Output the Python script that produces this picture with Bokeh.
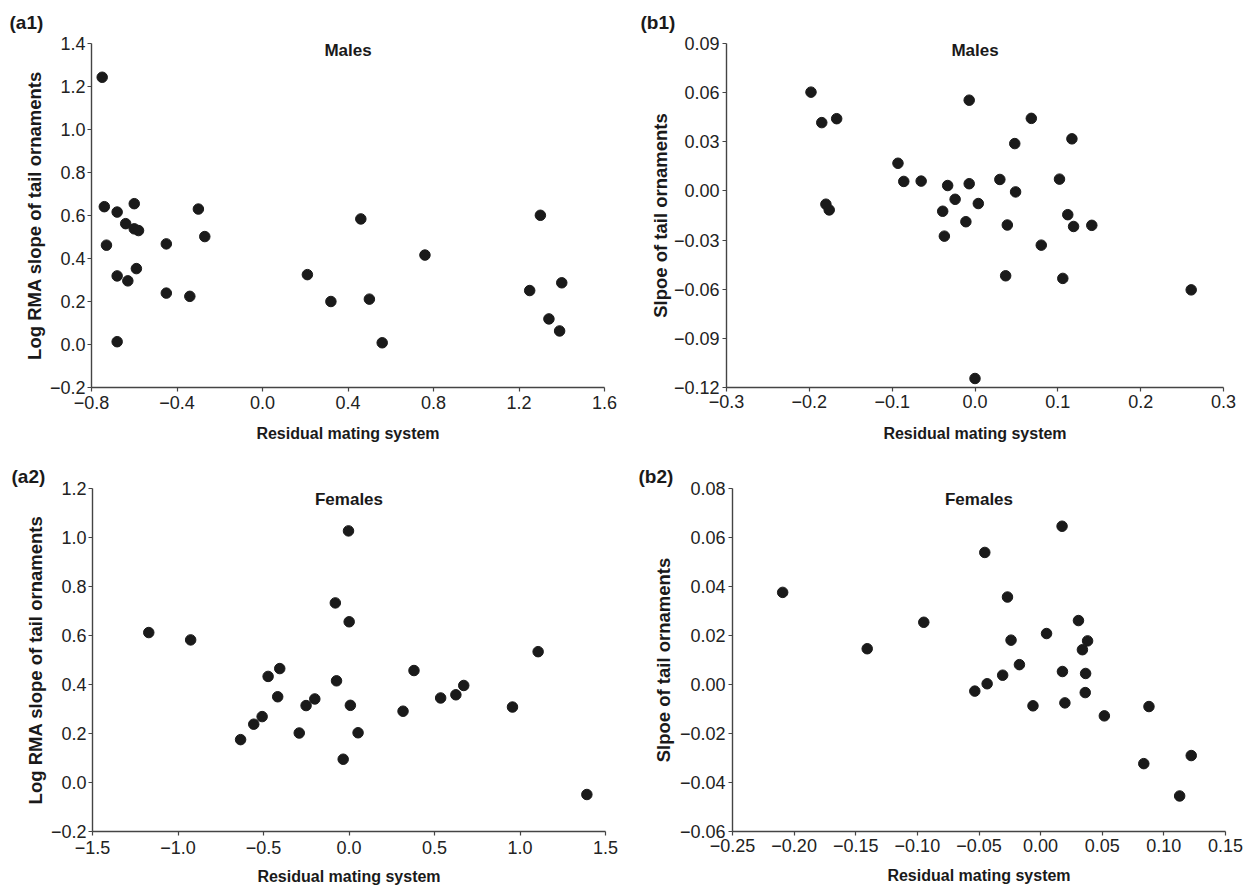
from bokeh.plotting import figure
from bokeh.layouts import column, row
from bokeh.models import Label, Title, FixedTicker, CustomJSTickFormatter, Range1d
from bokeh.embed import file_html
from bokeh.resources import INLINE

# ---------------- data ----------------
# (a1) Males: log RMA slope vs residual mating system
a1_x = [-0.75, -0.74, -0.68, -0.60, -0.64, -0.60, -0.58, -0.73, -0.45, -0.30,
        -0.27, -0.68, -0.63, -0.59, -0.45, -0.34, -0.68, 0.21, 0.32, 0.46,
        0.50, 0.56, 0.76, 1.30, 1.25, 1.40, 1.34, 1.39]
a1_y = [1.243, 0.641, 0.616, 0.655, 0.562, 0.538, 0.530, 0.462, 0.468, 0.630,
        0.502, 0.319, 0.296, 0.353, 0.239, 0.224, 0.013, 0.325, 0.200, 0.584,
        0.211, 0.008, 0.416, 0.601, 0.251, 0.287, 0.119, 0.063]

# (b1) Males: slope vs residual mating system
b1_x = [-0.198, -0.185, -0.167, -0.180, -0.176, -0.093, -0.086, -0.065, -0.033, -0.007,
        -0.007, -0.024, 0.004, -0.039, -0.011, -0.037, 0.000, 0.030, 0.049, 0.048,
        0.068, 0.039, 0.037, 0.080, 0.102, 0.117, 0.112, 0.119, 0.141, 0.106, 0.261]
b1_y = [0.0603, 0.0417, 0.0441, -0.0081, -0.0116, 0.0169, 0.0058, 0.0060, 0.0033, 0.0044,
        0.0554, -0.0051, -0.0077, -0.0124, -0.0188, -0.0276, -0.1145, 0.0070, -0.0006, 0.0289,
        0.0443, -0.0208, -0.0518, -0.0331, 0.0072, 0.0318, -0.0145, -0.0217, -0.0210, -0.0534,
        -0.0604]

# (a2) Females: log RMA slope vs residual mating system
a2_x = [-1.171, -0.926, -0.634, -0.557, -0.508, -0.473, -0.405, -0.417, -0.291, -0.251,
        -0.200, -0.080, -0.073, -0.003, 0.001, 0.008, -0.034, 0.053, 0.316, 0.380,
        0.536, 0.625, 0.671, 0.956, 1.106, 1.391]
a2_y = [0.612, 0.582, 0.175, 0.238, 0.269, 0.433, 0.465, 0.350, 0.202, 0.314,
        0.341, 0.733, 0.415, 1.027, 0.656, 0.315, 0.095, 0.203, 0.291, 0.457,
        0.345, 0.358, 0.396, 0.308, 0.534, -0.049]

# (b2) Females: slope vs residual mating system
b2_x = [-0.2093, -0.1407, -0.0948, -0.0453, -0.0269, -0.0240, -0.0172, -0.0308, -0.0434, -0.0534,
        -0.0062, 0.0048, 0.0174, 0.0177, 0.0197, 0.0307, 0.0381, 0.0339, 0.0365, 0.0362,
        0.0517, 0.0879, 0.0837, 0.1222, 0.1128]
b2_y = [0.0376, 0.0146, 0.0254, 0.0539, 0.0357, 0.0181, 0.0081, 0.0038, 0.0003, -0.0027,
        -0.0087, 0.0208, 0.0646, 0.0053, -0.0075, 0.0261, 0.0178, 0.0142, 0.0045, -0.0033,
        -0.0128, -0.0090, -0.0323, -0.0290, -0.0455]

# tick values
a1_xticks = [-0.8, -0.4, 0.0, 0.4, 0.8, 1.2, 1.6]
a1_yticks = [-0.2, 0.0, 0.2, 0.4, 0.6, 0.8, 1.0, 1.2, 1.4]
b1_xticks = [-0.3, -0.2, -0.1, 0.0, 0.1, 0.2, 0.3]
b1_yticks = [-0.12, -0.09, -0.06, -0.03, 0.0, 0.03, 0.06, 0.09]
a2_xticks = [-1.5, -1.0, -0.5, 0.0, 0.5, 1.0, 1.5]
a2_yticks = [-0.2, 0.0, 0.2, 0.4, 0.6, 0.8, 1.0, 1.2]
b2_xticks = [-0.25, -0.20, -0.15, -0.10, -0.05, 0.0, 0.05, 0.10, 0.15]
b2_yticks = [-0.06, -0.04, -0.02, 0.0, 0.02, 0.04, 0.06, 0.08]

x_label = "Residual mating system"
ylab_log = "Log RMA slope of tail ornaments"
ylab_slope = "Slpoe of tail ornaments"

FONT = "Liberation Sans"
INK = "#1a1a1a"
AXC = "#444444"

FMT_CODE = """
const s = Math.abs(tick).toFixed(d);
return (tick < -1e-12 ? "\\u2212" : "") + s;
"""


def panel(xs, ys, xticks, yticks, xdec, ydec, ylabel, title, tag, g):
    p = figure(width=g["w"], height=g["h"],
               x_range=Range1d(xticks[0], xticks[-1]),
               y_range=Range1d(yticks[0], yticks[-1]),
               min_border_left=g["l"], min_border_right=g["r"],
               min_border_top=g["t"], min_border_bottom=g["b"],
               output_backend="svg", toolbar_location=None, tools="")
    p.outline_line_color = None
    p.grid.visible = False
    p.background_fill_color = "white"
    p.border_fill_color = "white"
    p.scatter(xs, ys, size=10.5, fill_color=INK, line_color=INK)

    for ax, ticks, dec in ((p.xaxis[0], xticks, xdec), (p.yaxis[0], yticks, ydec)):
        ax.ticker = FixedTicker(ticks=ticks)
        ax.formatter = CustomJSTickFormatter(args=dict(d=dec), code=FMT_CODE)
        ax.major_tick_out = 4
        ax.major_tick_in = 0
        ax.minor_tick_out = 0
        ax.minor_tick_in = 0
        ax.axis_line_color = AXC
        ax.axis_line_width = 1.4
        ax.major_tick_line_color = AXC
        ax.major_tick_line_width = 1.2
        ax.major_label_text_font = FONT
        ax.major_label_text_font_size = "18px"
        ax.major_label_text_color = "#222222"
        ax.axis_label_text_font = FONT
        ax.axis_label_text_font_style = "bold"
        ax.axis_label_text_color = "#1a1a1a"

    p.xaxis[0].axis_label = x_label
    p.xaxis[0].axis_label_text_font_size = "16px"
    p.xaxis[0].major_label_standoff = g["xts"]
    p.xaxis[0].axis_label_standoff = g["xls"]
    p.yaxis[0].axis_label = ylabel
    p.yaxis[0].axis_label_text_font_size = "18.5px"
    p.yaxis[0].major_label_standoff = g["yts"]
    p.yaxis[0].axis_label_standoff = g["yls"]

    xmid = (xticks[0] + xticks[-1]) / 2
    p.add_layout(Label(x=xmid, y=yticks[-1], text=title, text_align="center",
                       text_baseline="top", y_offset=g["ty"], text_font=FONT,
                       text_font_style="bold", text_font_size="17px", text_color=INK))
    p.add_layout(Title(text=tag, align="left", vertical_align="top",
                       offset=g["tagx"], standoff=g["tags"],
                       text_font=FONT, text_font_style="bold", text_font_size="19px",
                       text_color=INK), "above")
    return p


g_a1 = dict(w=626, h=448, l=91, r=22, t=43, b=61, xts=4, xls=13, yts=2, yls=2, ty=3,
            tagx=-82, tags=17)
g_b1 = dict(w=626, h=448, l=100, r=29, t=43, b=61, xts=3, xls=14, yts=3, yls=0, ty=3,
            tagx=-86, tags=17)
g_a2 = dict(w=626, h=441, l=92, r=21, t=40, b=58, xts=5, xls=11, yts=2, yls=2, ty=-1,
            tagx=-81, tags=0)
g_b2 = dict(w=626, h=441, l=106, r=27, t=40, b=58, xts=3, xls=12, yts=3, yls=3, ty=-1,
            tagx=-94, tags=0)

pa1 = panel(a1_x, a1_y, a1_xticks, a1_yticks, 1, 1, ylab_log, "Males", "(a1)", g_a1)
pb1 = panel(b1_x, b1_y, b1_xticks, b1_yticks, 1, 2, ylab_slope, "Males", "(b1)", g_b1)
pa2 = panel(a2_x, a2_y, a2_xticks, a2_yticks, 1, 1, ylab_log, "Females", "(a2)", g_a2)
pb2 = panel(b2_x, b2_y, b2_xticks, b2_yticks, 2, 2, ylab_slope, "Females", "(b2)", g_b2)

layout = column(row(pa1, pb1, spacing=0), row(pa2, pb2, spacing=0), spacing=0)

with open("out.html", "w", encoding="utf-8") as f:
    f.write(file_html(layout, INLINE))
